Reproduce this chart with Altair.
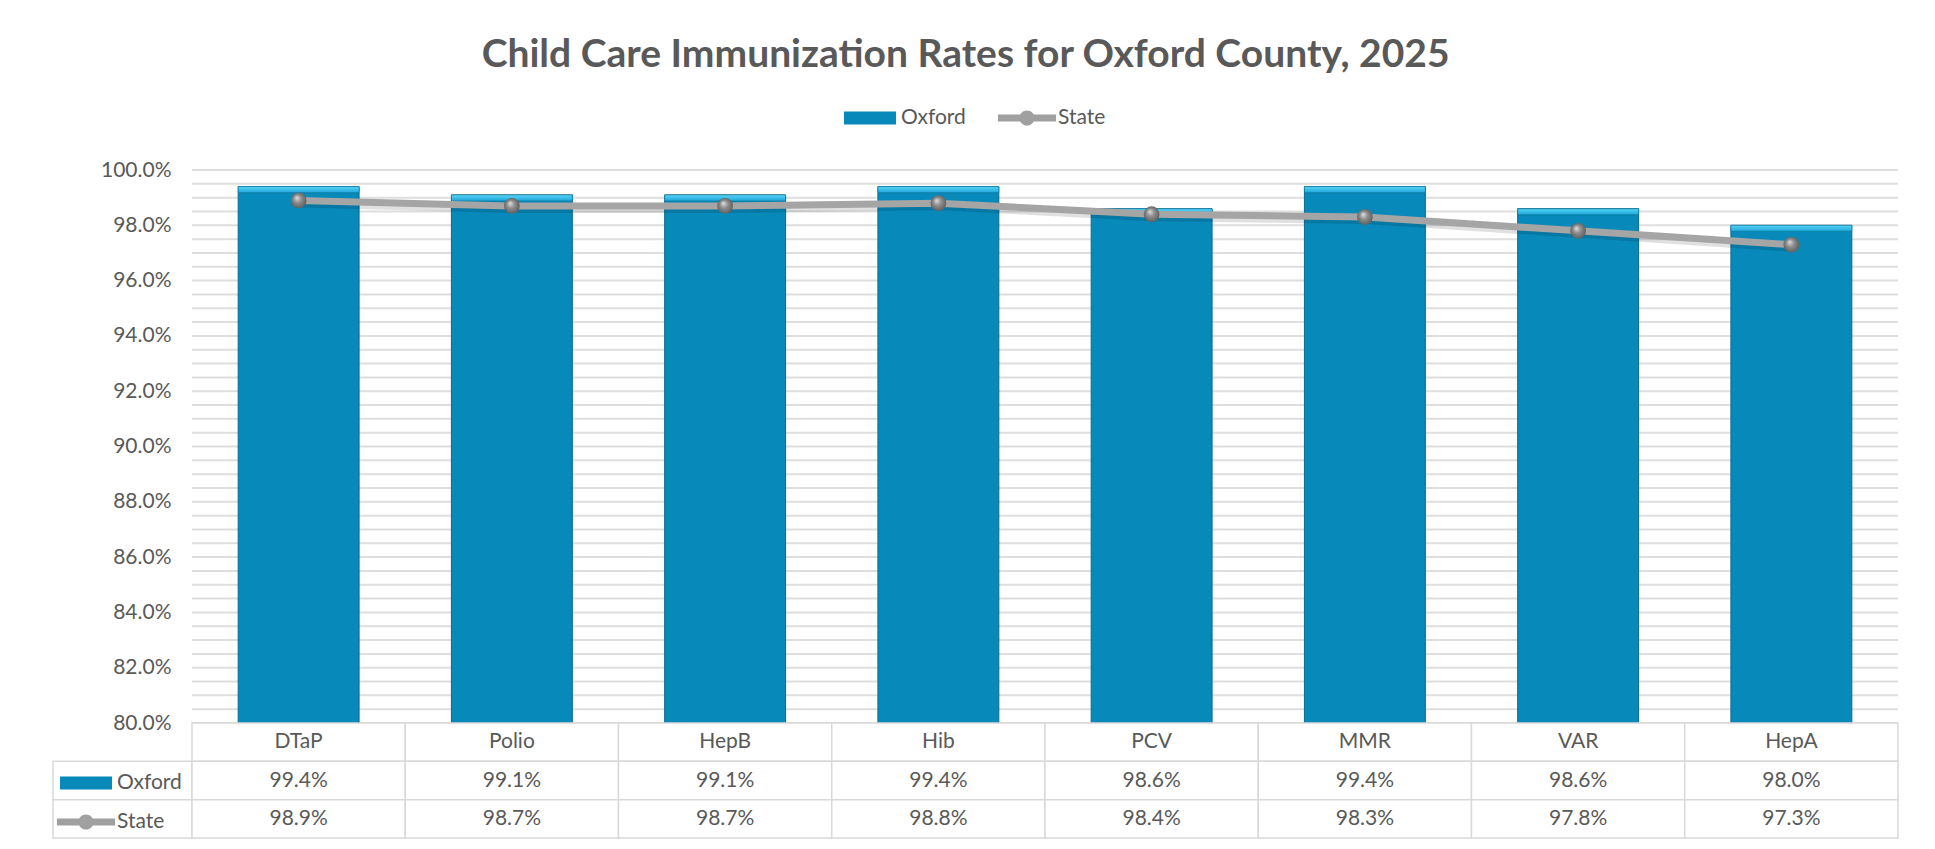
import altair as alt
import pandas as pd

categories = ["DTaP", "Polio", "HepB", "Hib", "PCV", "MMR", "VAR", "HepA"]
oxford = [99.4, 99.1, 99.1, 99.4, 98.6, 99.4, 98.6, 98.0]
state = [98.9, 98.7, 98.7, 98.8, 98.4, 98.3, 97.8, 97.3]
series_names = ["Oxford", "State"]
table_rows = ["Header", "Oxford", "State"]
y_ticks = [80 + 0.5 * i for i in range(41)]
title_text = "Child Care Immunization Rates for Oxford County, 2025"

FONT = "Lato"
TXT = "#595959"
BAR = "#0789BA"
LINE = "#A5A5A5"
GRID = "#DEDEDE"
BORDER = "#D9D9D9"

OX_PATH = "M-1.37,-0.34H1.37V0.34H-1.37Z"
ST_PATH = ("M-1.53,-0.18H1.53V0.18H-1.53Z "
           "M-0.4,0A0.4,0.4 0 1,1 0.4,0A0.4,0.4 0 1,1 -0.4,0Z")

df = pd.DataFrame({"cat": categories, "oxford": oxford, "state": state})
long_df = pd.DataFrame({
    "series": ["Oxford"] * len(categories) + ["State"] * len(categories),
    "cat": categories * 2,
    "value": oxford + state,
})
grid_df = pd.DataFrame({"tick": y_ticks})

trows = []
for c in categories:
    trows.append({"row": "Header", "cat": c, "label": c})
for c, v in zip(categories, oxford):
    trows.append({"row": "Oxford", "cat": c, "label": f"{v:.1f}%"})
for c, v in zip(categories, state):
    trows.append({"row": "State", "cat": c, "label": f"{v:.1f}%"})
tdf = pd.DataFrame(trows)
left_df = pd.DataFrame({"row": ["Oxford", "State"]})

W = 1706
H = 553
TH = 115
SYM = 38 * 38


def legend_layer(legend):
    return (
        alt.Chart(long_df)
        .transform_filter("false")
        .mark_point(filled=True, opacity=1, size=SYM)
        .encode(
            color=alt.Color("series:N",
                            scale=alt.Scale(domain=series_names, range=[BAR, "#A0A0A0"]),
                            legend=legend),
            shape=alt.Shape("series:N",
                            scale=alt.Scale(domain=series_names, range=[OX_PATH, ST_PATH]),
                            legend=legend),
        )
    )


top_legend = alt.Legend(
    orient="none", legendX=659, legendY=-71, direction="horizontal", title=None,
    symbolSize=SYM, symbolStrokeWidth=0, symbolOpacity=1, labelFont=FONT,
    labelFontSize=21, labelColor=TXT, labelOffset=12, columnPadding=31, padding=0,
)
table_legend = alt.Legend(
    orient="none", legendX=-125, legendY=41, direction="vertical", title=None,
    symbolSize=SYM, symbolStrokeWidth=0, symbolOpacity=1, labelFont=FONT,
    labelFontSize=21, labelColor=TXT, labelOffset=12, rowPadding=10, padding=0,
)

X = alt.X("cat:N", sort=categories,
          scale=alt.Scale(paddingInner=0.433, paddingOuter=0.2165), axis=None)
yscale = alt.Scale(domain=[80, 100], zero=False, nice=False)
yaxis = alt.Axis(
    values=y_ticks,
    labelExpr="datum.value % 2 == 0 ? format(datum.value, '.1f') + '%' : ''",
    domain=False, ticks=False, grid=False, labelPadding=21, labelFont=FONT, labelFontSize=21,
    labelColor=TXT, title=None, labelOverlap=False, labelFlush=False,
)

gridlines = alt.Chart(grid_df).mark_rule(color=GRID, strokeWidth=2).encode(
    y=alt.Y("tick:Q", scale=yscale, axis=yaxis)
)

base = alt.Chart(df)
bars = base.mark_bar(color=BAR, stroke="#0B6A8C", strokeWidth=1, clip=True).encode(
    x=X, y=alt.Y("oxford:Q")
)
bevel = base.transform_calculate(top0="datum.oxford - 0.22").mark_bar(
    fill=alt.Gradient(gradient="linear", x1=0, y1=0, x2=0, y2=1,
                      stops=[alt.GradientStop(offset=0, color="#56D4F7"),
                             alt.GradientStop(offset=1, color="#1FA7D8")]),
    stroke="#0B6A8C", strokeWidth=0.5,
).encode(x=X, y=alt.Y("oxford:Q"), y2="top0:Q")
line_shadow = base.mark_line(color="#000000", opacity=0.12, strokeWidth=8, yOffset=3).encode(
    x=X, y=alt.Y("state:Q")
)
line = base.mark_line(color=LINE, strokeWidth=7).encode(x=X, y=alt.Y("state:Q"))
points = base.mark_point(
    filled=True, size=250, opacity=1,
    fill=alt.Gradient(gradient="radial", x1=0.38, y1=0.32, r1=0, x2=0.5, y2=0.5, r2=0.55,
                      stops=[alt.GradientStop(offset=0, color="#E2E2E2"),
                             alt.GradientStop(offset=0.45, color="#8E8E8E"),
                             alt.GradientStop(offset=1, color="#5A5A5A")]),
).encode(x=X, y=alt.Y("state:Q"))

main = alt.layer(gridlines, bars, bevel, line_shadow, line, points,
                 legend_layer(top_legend)).properties(width=W, height=H)

tx = alt.X("cat:N", sort=categories, scale=alt.Scale(paddingInner=0, paddingOuter=0), axis=None)
ty = alt.Y("row:N", sort=table_rows,
           scale=alt.Scale(domain=table_rows, paddingInner=0, paddingOuter=0), axis=None)
cells = alt.Chart(tdf).mark_rect(fill="white", stroke=BORDER, strokeWidth=1.5).encode(x=tx, y=ty)
left_cells = alt.Chart(left_df).mark_rect(fill="white", stroke=BORDER, strokeWidth=1.5).encode(
    x=alt.value(-139), x2=alt.value(0), y=ty
)
texts = alt.Chart(tdf).mark_text(font=FONT, fontSize=21, color=TXT).encode(
    x=tx, y=ty, text="label:N"
)
table = alt.layer(left_cells, cells, texts, legend_layer(table_legend)).properties(
    width=W, height=TH
)

chart = (
    alt.vconcat(main, table, spacing=0, bounds="flush")
    .resolve_scale(x="independent", y="independent", color="independent", shape="independent")
    .resolve_legend(color="independent", shape="independent")
    .properties(
        title=alt.TitleParams(title_text, font=FONT, fontSize=39, fontWeight="bold",
                              color=TXT, anchor="middle", offset=24, dx=-10),
        padding={"left": 44, "top": 28, "right": 20, "bottom": 4},
        background="white",
    )
    .configure_view(stroke=None)
)

chart.save("out.html", embed_options={"renderer": "svg", "actions": False})
